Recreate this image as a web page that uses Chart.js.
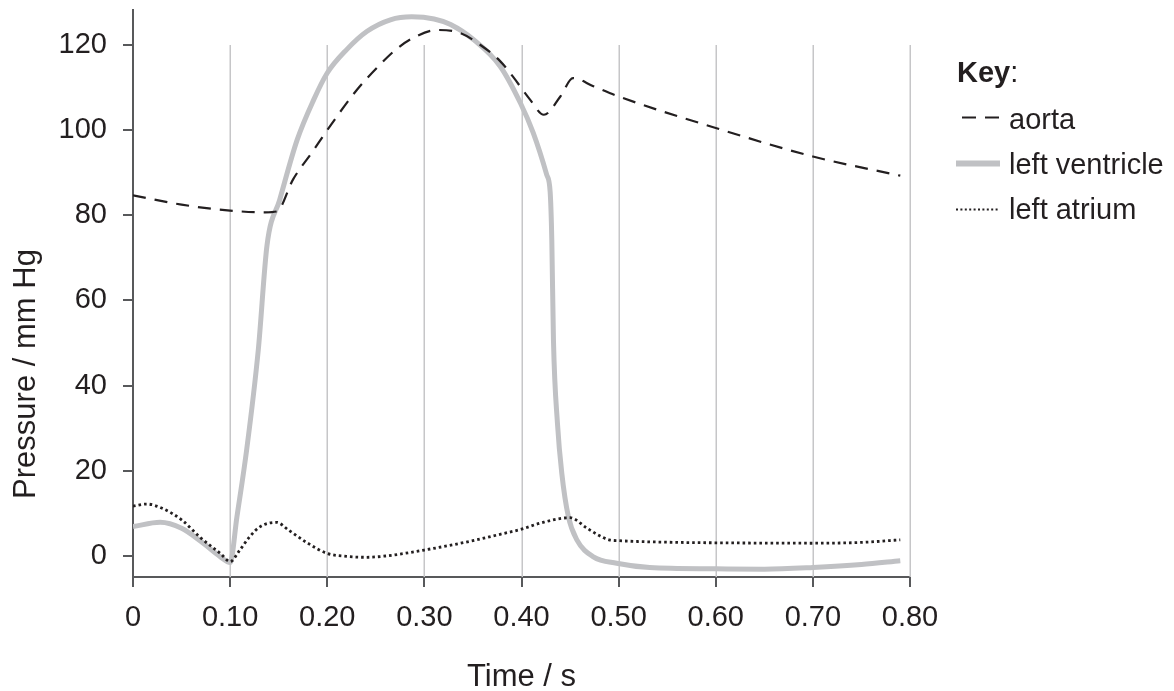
<!DOCTYPE html>
<html>
<head>
<meta charset="utf-8">
<script src="https://cdn.jsdelivr.net/npm/chart.js@4.4.1/dist/chart.umd.min.js"></script>
<style>
html,body{margin:0;padding:0;background:#fff;}
#wrap{width:1174px;height:691px;position:relative;}
</style>
</head>
<body>
<div id="wrap"><canvas id="c" width="1174" height="691"></canvas></div>
<script>
// ---- data ----
const xTicks = [0, 0.1, 0.2, 0.3, 0.4, 0.5, 0.6, 0.7, 0.8];
const xTickLabels = ['0', '0.10', '0.20', '0.30', '0.40', '0.50', '0.60', '0.70', '0.80'];
const yTicks = [0, 20, 40, 60, 80, 100, 120];
const yTickLabels = ['0', '20', '40', '60', '80', '100', '120'];

const aortaT = [0, 0.05, 0.1, 0.136, 0.148, 0.165, 0.185, 0.2, 0.23, 0.254, 0.27, 0.288, 0.313, 0.337, 0.357, 0.378, 0.391, 0.409, 0.423, 0.44, 0.453, 0.474, 0.5, 0.6, 0.7, 0.79];
const aortaP = [84.7, 82.5, 81.1, 80.7, 80.9, 88.5, 95.0, 100, 109.3, 115.3, 118.8, 121.6, 123.5, 122.8, 120.1, 116.2, 112.6, 107.1, 103.6, 107.9, 112.2, 110.3, 107.9, 100.5, 93.8, 89.3];

const lvT = [0, 0.028, 0.05, 0.07, 0.09, 0.1, 0.107, 0.117, 0.129, 0.138, 0.151, 0.169, 0.186, 0.2, 0.22, 0.241, 0.265, 0.287, 0.31, 0.327, 0.351, 0.378, 0.399, 0.412, 0.426, 0.4295, 0.4312, 0.4329, 0.437, 0.4415, 0.4483, 0.457, 0.474, 0.498, 0.532, 0.6, 0.65, 0.7, 0.75, 0.79];
const lvP = [6.9, 7.9, 6.5, 3.4, -0.2, -1.5, 9.2, 24.9, 48.4, 73.0, 83.6, 97.7, 107.1, 113.4, 118.9, 123.2, 125.9, 126.6, 126.1, 124.8, 121.2, 115, 106.3, 99.4, 89.5, 85.5, 74.2, 50.7, 31.2, 19.4, 9.2, 3.8, -0.2, -1.7, -2.7, -3.0, -3.1, -2.7, -2.0, -1.1];

const laT = [0, 0.014, 0.03, 0.05, 0.07, 0.09, 0.1, 0.11, 0.12, 0.131, 0.148, 0.16, 0.18, 0.2, 0.22, 0.24, 0.26, 0.3, 0.35, 0.378, 0.4, 0.419, 0.45, 0.467, 0.48, 0.49, 0.5, 0.56, 0.6, 0.7, 0.75, 0.79];
const laP = [11.7, 12.2, 11.2, 8.5, 4.2, 0.6, -1.3, 1.4, 4.5, 6.9, 7.9, 6.1, 3.0, 0.6, -0.1, -0.3, 0.0, 1.4, 3.6, 5.1, 6.3, 7.7, 9.0, 6.6, 4.8, 3.8, 3.6, 3.2, 3.1, 3.0, 3.2, 3.8];

const seriesNames = ['aorta', 'left ventricle', 'left atrium'];
const legendTitle = 'Key';
const xTitle = 'Time / s';
const yTitle = 'Pressure / mm Hg';

// ---- styling ----
const FONT = '"Liberation Sans", Arial, Helvetica, sans-serif';
const TEXT = '#231f20';
const AXIS = '#58595b';
const GRID = '#c6c6c8';
const LVCOL = '#c0c1c4';
const aortaDash = [13, 9];
const dotDash = [2.6, 3.0];

function pts(t, p) { return t.map((v, i) => ({ x: v, y: p[i] })); }

const gridPlugin = {
  id: 'vgrid',
  beforeDatasetsDraw(chart) {
    const ctx = chart.ctx, xs = chart.scales.x, ys = chart.scales.y;
    const top = ys.getPixelForValue(yTicks[yTicks.length - 1]);
    const bottom = chart.chartArea.bottom;
    ctx.save();
    ctx.strokeStyle = GRID;
    ctx.lineWidth = 1.5;
    xTicks.forEach(v => {
      if (v === 0) return;
      const x = Math.round(xs.getPixelForValue(v)) + 0.25;
      ctx.beginPath(); ctx.moveTo(x, top); ctx.lineTo(x, bottom); ctx.stroke();
    });
    ctx.restore();
  }
};

const decorPlugin = {
  id: 'decor',
  afterDraw(chart) {
    const ctx = chart.ctx;
    ctx.save();
    ctx.fillStyle = TEXT;
    // axis titles
    ctx.font = '31px ' + FONT;
    ctx.textAlign = 'center';
    ctx.textBaseline = 'middle';
    const ca = chart.chartArea;
    ctx.fillText(xTitle, (ca.left + ca.right) / 2, 677);
    ctx.save();
    ctx.translate(26, 374);
    ctx.rotate(-Math.PI / 2);
    ctx.fillText(yTitle, 0, 0);
    ctx.restore();

    // legend
    ctx.textAlign = 'left';
    ctx.textBaseline = 'alphabetic';
    ctx.font = 'bold 29px ' + FONT;
    ctx.fillText(legendTitle, 957, 82);
    const w = ctx.measureText(legendTitle).width;
    ctx.font = '29px ' + FONT;
    ctx.fillText(':', 957 + w, 82);

    const rows = [128.5, 173.5, 218.5];
    const tx = 1009;
    seriesNames.forEach((n, i) => ctx.fillText(n, tx, rows[i]));

    // samples
    ctx.lineCap = 'butt';
    ctx.strokeStyle = TEXT; ctx.lineWidth = 2; ctx.setLineDash([14, 9]);
    ctx.beginPath(); ctx.moveTo(962, 117.5); ctx.lineTo(1000, 117.5); ctx.stroke();
    ctx.setLineDash([]); ctx.strokeStyle = LVCOL; ctx.lineWidth = 6;
    ctx.beginPath(); ctx.moveTo(956, 163.5); ctx.lineTo(1000, 163.5); ctx.stroke();
    ctx.strokeStyle = TEXT; ctx.lineWidth = 2; ctx.setLineDash([2, 2.4]);
    ctx.beginPath(); ctx.moveTo(956, 209.5); ctx.lineTo(1000, 209.5); ctx.stroke();
    ctx.restore();
  }
};

const common = { pointRadius: 0, pointHoverRadius: 0, fill: false, tension: 0.4, cubicInterpolationMode: 'monotone', borderCapStyle: 'butt' };

new Chart(document.getElementById('c'), {
  type: 'line',
  data: {
    datasets: [
      Object.assign({ label: seriesNames[0], data: pts(aortaT, aortaP), borderColor: TEXT, borderWidth: 2.2, borderDash: aortaDash, order: 1 }, common),
      Object.assign({ label: seriesNames[2], data: pts(laT, laP), borderColor: TEXT, borderWidth: 2.8, borderDash: dotDash, order: 2 }, common),
      Object.assign({ label: seriesNames[1], data: pts(lvT, lvP), borderColor: LVCOL, borderWidth: 5, order: 3 }, common)
    ]
  },
  options: {
    responsive: false,
    animation: false,
    devicePixelRatio: 1,
    layout: { padding: { top: 10, right: 264, left: 0, bottom: 0 } },
    plugins: { legend: { display: false }, tooltip: { enabled: false } },
    events: [],
    scales: {
      x: {
        type: 'linear', min: 0, max: 0.8,
        afterFit(s) { s.height = 114; s.paddingLeft = 0; s.paddingRight = 0; },
        afterBuildTicks(s) { s.ticks = xTicks.map(v => ({ value: v })); },
        ticks: {
          autoSkip: false, maxRotation: 0, padding: 14, color: TEXT,
          font: { family: FONT, size: 29 },
          callback(v) { const i = xTicks.findIndex(t => Math.abs(t - v) < 1e-9); return i >= 0 ? xTickLabels[i] : ''; }
        },
        grid: { display: true, drawOnChartArea: false, drawTicks: true, tickLength: 10, color: AXIS, lineWidth: 2 },
        border: { display: true, color: AXIS, width: 2 }
      },
      y: {
        type: 'linear', min: -4.93, max: 128.2,
        afterFit(s) { s.width = 133; s.paddingTop = 0; s.paddingBottom = 0; },
        afterBuildTicks(s) { s.ticks = yTicks.map(v => ({ value: v })); },
        ticks: {
          autoSkip: false, padding: 16, color: TEXT,
          font: { family: FONT, size: 29 },
          callback(v) { const i = yTicks.indexOf(v); return i >= 0 ? yTickLabels[i] : ''; }
        },
        grid: { display: true, drawOnChartArea: false, drawTicks: true, tickLength: 10, color: AXIS, lineWidth: 2 },
        border: { display: true, color: AXIS, width: 2 }
      }
    }
  },
  plugins: [gridPlugin, decorPlugin]
});
</script>
</body>
</html>
